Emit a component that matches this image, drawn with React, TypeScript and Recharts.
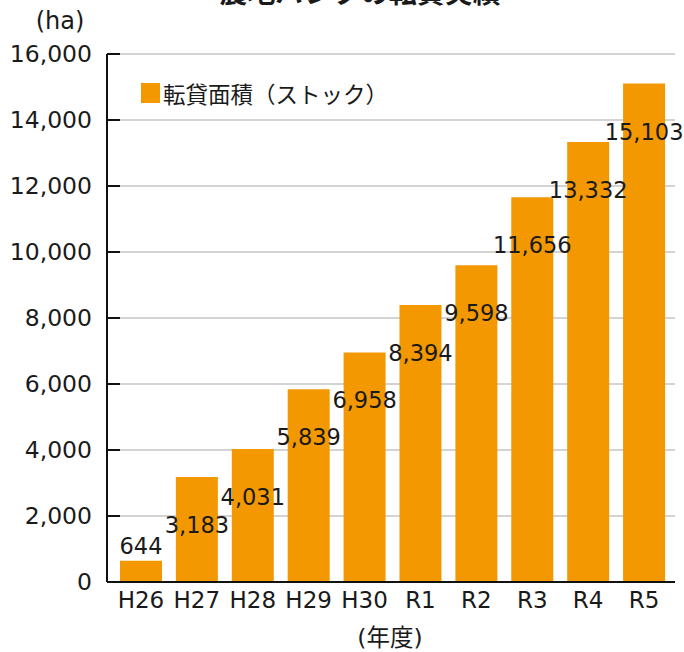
import React from "react";
import { BarChart, Bar, XAxis, YAxis, CartesianGrid, Legend, LabelList } from "recharts";

const years = ["H26", "H27", "H28", "H29", "H30", "R1", "R2", "R3", "R4", "R5"];
const leasedArea = [644, 3183, 4031, 5839, 6958, 8394, 9598, 11656, 13332, 15103];
const yTicks = [0, 2000, 4000, 6000, 8000, 10000, 12000, 14000, 16000];
const seriesName = "転貸面積（ストック）";
const title = "農地バンクの転貸実績";
const yUnit = "(ha)";
const xUnit = "(年度)";

const data = years.map((y, i) => ({ year: y, value: leasedArea[i] }));

const ORANGE = "#F39800";
const FONT = "'DejaVu Sans', 'Noto Sans CJK JP', sans-serif";
const TEXT = "#1a1a1a";

const fmt = (v: number) => v.toLocaleString("en-US");

const BarLabel = (props: any) => {
  const { x, y, width, height, value } = props;
  const cx = x + width / 2;
  const cy = height > 60 ? y + 48 : y - 15;
  return (
    <text x={cx} y={cy} textAnchor="middle" dominantBaseline="central" fontSize={22.5} fill={TEXT} fontFamily={FONT}>
      {fmt(value)}
    </text>
  );
};

const LegendContent = () => (
  <div style={{ display: "flex", alignItems: "center", fontFamily: FONT, fontSize: 22.5, color: TEXT, whiteSpace: "nowrap", width: 300 }}>
    <span style={{ display: "inline-block", flex: "0 0 auto", width: 19, height: 20, background: ORANGE, marginRight: 3 }} />
    <span style={{ flex: "0 0 auto" }}>{seriesName}</span>
  </div>
);

export default function App() {
  return (
    <div style={{ position: "absolute", left: 0, top: 0, width: 684, height: 652, background: "#fff", overflow: "hidden" }}>
      <BarChart
        width={684}
        height={652}
        data={data}
        margin={{ top: 54, right: 9, bottom: 40, left: 0 }}
        barCategoryGap="12.5%"
      >
        <CartesianGrid vertical={false} stroke="#c4c4c4" strokeWidth={1.5} />
        <XAxis
          dataKey="year"
          height={30}
          padding={{ left: 6, right: 3 }}
          axisLine={{ stroke: "#111", strokeWidth: 2 }}
          tickLine={false}
          tickSize={0}
          tickMargin={10}
          interval={0}
          tick={{ fontSize: 23, fill: TEXT, fontFamily: FONT }}
        />
        <YAxis
          width={107}
          domain={[0, 16000]}
          ticks={yTicks}
          tickFormatter={fmt}
          axisLine={{ stroke: "#111", strokeWidth: 2 }}
          tickLine={{ stroke: "#111", strokeWidth: 2 }}
          tickSize={-13}
          tickMargin={28}
          tick={{ fontSize: 23.5, fill: TEXT, fontFamily: FONT }}
          allowDataOverflow
        />
        <Legend
          verticalAlign="top"
          align="left"
          layout="horizontal"
          content={<LegendContent />}
          wrapperStyle={{ position: "absolute", top: 77, left: 141, width: 0, height: 0, overflow: "visible" }}
        />
        <Bar dataKey="value" name={seriesName} fill={ORANGE} isAnimationActive={false}>
          <LabelList dataKey="value" content={<BarLabel />} />
        </Bar>
      </BarChart>
      <svg width={684} height={652} style={{ position: "absolute", left: 0, top: 0, pointerEvents: "none", overflow: "visible" }}>
        <text x={360} y={3} textAnchor="middle" fontSize={28} fontWeight="bold" fill={TEXT} fontFamily={FONT}>{title}</text>
        <text x={60} y={29} textAnchor="middle" fontSize={24} fill={TEXT} fontFamily={FONT}>{yUnit}</text>
        <text x={390} y={646} textAnchor="middle" fontSize={23.5} fill={TEXT} fontFamily={FONT}>{xUnit}</text>
      </svg>
    </div>
  );
}
